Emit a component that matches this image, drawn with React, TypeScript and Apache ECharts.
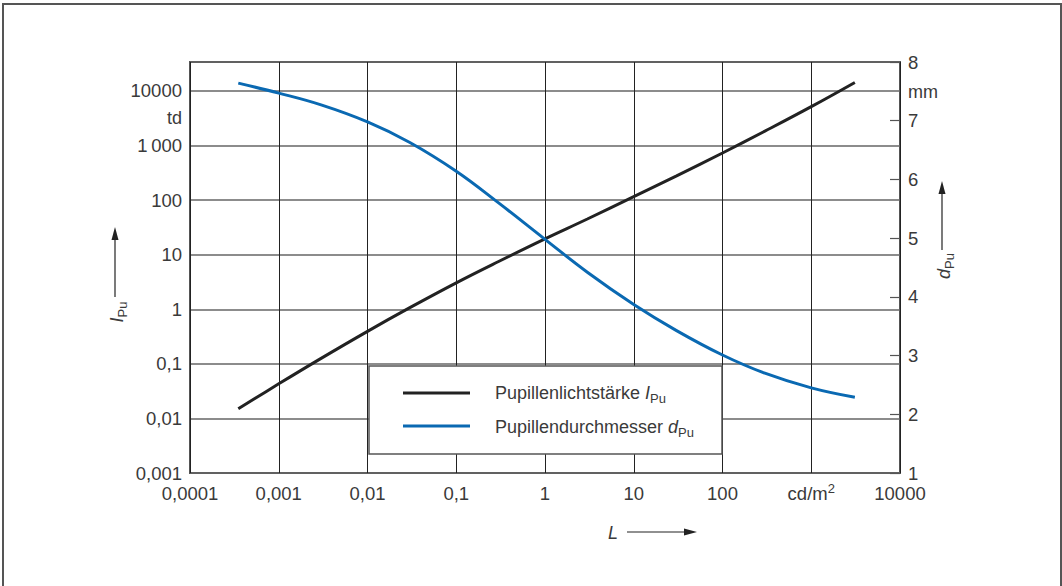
import React, { useEffect, useRef } from "react";
import * as echarts from "echarts";

// Luminance L in cd/m² (x values, log scale)
const luminance = [0.00035, 0.001, 0.003, 0.01, 0.03, 0.1, 0.3, 1, 3, 10, 30, 100, 300, 1000, 3100];
// Pupil illuminance I_Pu in td (left axis, log scale)
const pupilIlluminance = [0.015, 0.043, 0.126, 0.394, 1.07, 3.05, 7.5, 19.5, 45, 116, 275, 730, 1830, 5150, 14300];
// Pupil diameter d_Pu in mm (right axis, linear)
const pupilDiameter = [7.64, 7.47, 7.27, 6.98, 6.63, 6.14, 5.6, 4.98, 4.42, 3.87, 3.43, 3.01, 2.7, 2.45, 2.29];

// Tick labels
const xTickLabels = ["0,0001", "0,001", "0,01", "0,1", "1", "10", "100", "cd/m{sup|2}", "10000"];
const leftTickLabels = ["0,001", "0,01", "0,1", "1", "10", "100", "1\u2009000", "10000"];
const rightTickLabels = ["1", "2", "3", "4", "5", "6", "7", "8"];

const seriesNames = ["Pupillenlichtstärke", "Pupillendurchmesser"];

const TEXT = "#3a3a3a";
const FONT = "'Liberation Sans', Arial, sans-serif";
const BLUE = "#0a69b2";
const BLACK = "#222";

export default function App() {
  const ref = useRef<HTMLDivElement>(null);

  useEffect(() => {
    if (!ref.current) return;
    const chart = echarts.init(ref.current, undefined, { renderer: "svg" });

    const blackData = luminance.map((l, i) => [Math.log10(l), Math.log10(pupilIlluminance[i])]);
    const blueData = luminance.map((l, i) => [Math.log10(l), pupilDiameter[i]]);

    const baseText = { fontFamily: FONT, fontSize: 18, fill: TEXT };
    const subRich = {
      it: { fontFamily: FONT, fontSize: 18, fontStyle: "italic", fill: TEXT, lineHeight: 24 },
      sub: { fontFamily: FONT, fontSize: 13, fill: TEXT, lineHeight: 12, verticalAlign: "bottom" },
    };
    const numLabel = { fontSize: 18.5, color: TEXT, fontFamily: FONT };

    const option: any = {
      animation: false,
      backgroundColor: "#fff",
      textStyle: { fontFamily: FONT },
      grid: {
        left: 190,
        top: 62,
        width: 710,
        height: 411,
        show: true,
        borderColor: "#555",
        borderWidth: 2,
        backgroundColor: "transparent",
      },
      xAxis: {
        type: "value",
        min: -4,
        max: 4,
        interval: 1,
        axisLine: { show: false },
        axisTick: { show: false },
        axisLabel: {
          ...numLabel,
          margin: 9,
          lineHeight: 22,
          formatter: (v: number) => {
            const idx = Math.round(v) + 4;
            return Math.abs(v - Math.round(v)) < 1e-6 ? xTickLabels[idx] ?? "" : "";
          },
          rich: {
            sup: { fontSize: 13, verticalAlign: "top", lineHeight: 14, color: TEXT, fontFamily: FONT },
          },
        },
        splitLine: { show: true, lineStyle: { color: BLACK, width: 1 } },
      },
      yAxis: [
        {
          type: "value",
          min: -3,
          max: 4.53,
          interval: 1,
          position: "left",
          axisLine: { show: false },
          axisTick: { show: false },
          axisLabel: {
            ...numLabel,
            margin: 8,
            showMaxLabel: false,
            formatter: (v: number) => {
              const idx = Math.round(v) + 3;
              return Math.abs(v - Math.round(v)) < 1e-6 ? leftTickLabels[idx] ?? "" : "";
            },
          },
          splitLine: { show: true, lineStyle: { color: "#666", width: 1.5 } },
        },
        {
          type: "value",
          min: 1,
          max: 8,
          interval: 1,
          position: "right",
          axisLine: { show: false },
          axisTick: { show: true, inside: true, length: 10, lineStyle: { color: "#555", width: 1.2 } },
          axisLabel: {
            ...numLabel,
            margin: 8,
            formatter: (v: number) => rightTickLabels[Math.round(v) - 1] ?? "",
          },
          splitLine: { show: false },
        },
      ],
      series: [
        {
          name: seriesNames[0],
          type: "line",
          yAxisIndex: 0,
          data: blackData,
          smooth: 0.4,
          symbol: "none",
          lineStyle: { color: BLACK, width: 3 },
          z: 5,
        },
        {
          name: seriesNames[1],
          type: "line",
          yAxisIndex: 1,
          data: blueData,
          smooth: 0.4,
          symbol: "none",
          lineStyle: { color: BLUE, width: 3 },
          z: 5,
        },
      ],
      graphic: [
        // outer frame
        {
          type: "rect",
          shape: { x: 3, y: 4, width: 1058, height: 620 },
          style: { fill: "none", stroke: "#555", lineWidth: 2 },
          silent: true,
          z: 0,
        },
        // legend box
        {
          type: "rect",
          shape: { x: 369, y: 366, width: 353, height: 88 },
          style: { fill: "#fff", stroke: "#555", lineWidth: 1.5 },
          z: 50,
        },
        {
          type: "line",
          shape: { x1: 403, y1: 393, x2: 470, y2: 393 },
          style: { stroke: BLACK, lineWidth: 3 },
          z: 51,
        },
        {
          type: "line",
          shape: { x1: 403, y1: 426, x2: 470, y2: 426 },
          style: { stroke: BLUE, lineWidth: 3 },
          z: 51,
        },
        {
          type: "text",
          x: 495,
          y: 393,
          z: 51,
          style: {
            ...baseText,
            text: seriesNames[0] + " {it|I}{sub|Pu}",
            verticalAlign: "middle",
            lineHeight: 24,
            rich: subRich,
          },
        },
        {
          type: "text",
          x: 495,
          y: 427,
          z: 51,
          style: {
            ...baseText,
            text: seriesNames[1] + " {it|d}{sub|Pu}",
            verticalAlign: "middle",
            lineHeight: 24,
            rich: subRich,
          },
        },
        // units
        {
          type: "text",
          x: 182,
          y: 118,
          style: { ...baseText, text: "td", align: "right", verticalAlign: "middle" },
        },
        {
          type: "text",
          x: 908,
          y: 92,
          style: { ...baseText, text: "mm", align: "left", verticalAlign: "middle" },
        },
        // left axis name I_Pu (rotated)
        {
          type: "text",
          x: 117,
          y: 312,
          rotation: Math.PI / 2,
          style: {
            ...baseText,
            text: "{it|I}{sub|Pu}",
            align: "center",
            verticalAlign: "middle",
            lineHeight: 24,
            rich: subRich,
          },
        },
        {
          type: "line",
          shape: { x1: 115, y1: 297, x2: 115, y2: 236 },
          style: { stroke: BLACK, lineWidth: 1.2 },
        },
        {
          type: "polygon",
          shape: { points: [[115, 227], [111.5, 240], [118.5, 240]] },
          style: { fill: BLACK },
        },
        // right axis name d_Pu (rotated)
        {
          type: "text",
          x: 944,
          y: 266,
          rotation: Math.PI / 2,
          style: {
            ...baseText,
            text: "{it|d}{sub|Pu}",
            align: "center",
            verticalAlign: "middle",
            lineHeight: 24,
            rich: subRich,
          },
        },
        {
          type: "line",
          shape: { x1: 942, y1: 250, x2: 942, y2: 190 },
          style: { stroke: BLACK, lineWidth: 1.2 },
        },
        {
          type: "polygon",
          shape: { points: [[942, 181], [938.5, 194], [945.5, 194]] },
          style: { fill: BLACK },
        },
        // bottom axis name L
        {
          type: "text",
          x: 613,
          y: 533,
          style: { ...baseText, text: "L", fontStyle: "italic", align: "center", verticalAlign: "middle" },
        },
        {
          type: "line",
          shape: { x1: 627, y1: 532, x2: 688, y2: 532 },
          style: { stroke: BLACK, lineWidth: 1.2 },
        },
        {
          type: "polygon",
          shape: { points: [[697, 532], [684, 528.5], [684, 535.5]] },
          style: { fill: BLACK },
        },
      ],
    };

    chart.setOption(option);
    return () => chart.dispose();
  }, []);

  return (
    <div
      ref={ref}
      style={{ position: "absolute", left: 0, top: 0, width: 1062, height: 586, background: "#fff" }}
    />
  );
}
